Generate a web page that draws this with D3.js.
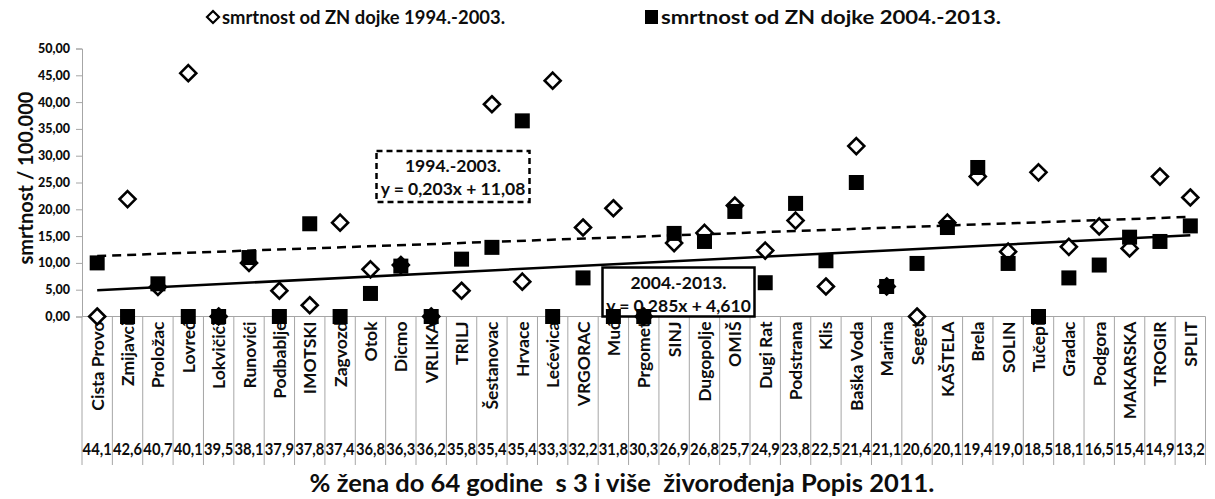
<!DOCTYPE html>
<html>
<head>
<meta charset="utf-8">
<script src="https://cdn.jsdelivr.net/npm/d3@7"></script>
<style>
  html, body { margin: 0; padding: 0; background: #fff; }
  svg { display: block; font-family: Lato, "Open Sans", "Liberation Sans", sans-serif; font-weight: 900; }
</style>
</head>
<body>
<svg id="chart" width="1215" height="499"></svg>
<script>
// Municipalities, ordered by share of women (up to 64) with 3+ live births
const categories = [
  "Cista Provo", "Zmijavci", "Proložac", "Lovreć", "Lokvičići", "Runovići", "Podbablje",
  "IMOTSKI", "Zagvozd", "Otok", "Dicmo", "VRLIKA", "TRILJ", "Šestanovac", "Hrvace",
  "Lećevica", "VRGORAC", "Muć", "Prgomet", "SINJ", "Dugopolje", "OMIŠ", "Dugi Rat",
  "Podstrana", "Klis", "Baška Voda", "Marina", "Seget", "KAŠTELA", "Brela", "SOLIN",
  "Tučepi", "Gradac", "Podgora", "MAKARSKA", "TROGIR", "SPLIT"
];

// % of women up to 64 with 3 or more live births (Census 2011)
const sharePct = [
  "44,1", "42,6", "40,7", "40,1", "39,5", "38,1", "37,9", "37,8", "37,4", "36,8",
  "36,3", "36,2", "35,8", "35,4", "35,4", "33,3", "32,2", "31,8", "30,3", "26,9",
  "26,8", "25,7", "24,9", "23,8", "22,5", "21,4", "21,1", "20,6", "20,1", "19,4",
  "19,0", "18,5", "18,1", "16,5", "15,4", "14,9", "13,2"
];

// Breast cancer mortality per 100,000, 1994-2003
const mortality1994 = [
  0, 21.9, 5.5, 45.4, 0, 10.0, 4.8, 2.1, 17.5, 8.8,
  9.6, 0, 4.8, 39.6, 6.5, 44.0, 16.6, 20.2, 0, 13.7,
  15.6, 20.7, 12.3, 17.9, 5.6, 31.8, 5.6, 0, 17.5, 26.1,
  12.1, 26.9, 13.0, 16.8, 12.7, 26.1, 22.2
];

// Breast cancer mortality per 100,000, 2004-2013
const mortality2004 = [
  10.0, 0, 6.1, 0, 0, 11.0, 0, 17.3, 0, 4.3,
  9.4, 0, 10.7, 12.9, 36.5, 0, 7.2, 0, 0, 15.5,
  14.0, 19.6, 6.3, 21.1, 10.4, 25.0, 5.6, 9.9, 16.6, 27.8,
  9.9, 0, 7.2, 9.6, 14.8, 14.0, 16.9
];

// Linear trend equations (x = position 1..37)
const trendLabels = ["1994.-2003.", "2004.-2013."];
const trendSlopes = [0.203, 0.285];
const trendIntercepts = [11.08, 4.610];
const trendEquations = ["y = 0,203x + 11,08", "y = 0,285x + 4,610"];

const yTicks = [0, 5, 10, 15, 20, 25, 30, 35, 40, 45, 50];
const legendLabels = ["smrtnost od ZN dojke 1994.-2003.", "smrtnost od ZN dojke 2004.-2013."];

const svg = d3.select("#chart");

const x = d3.scaleBand().domain(categories).range([82, 1205.5]).padding(0);
const y = d3.scaleLinear().domain([0, 50]).range([316.5, 48.5]);
const cx = d => x(d) + x.bandwidth() / 2;
const gridColor = "#a6a6a6";
const ink = "#0d0d0d";

// Category table below the zero line
const table = svg.append("g");
const bounds = categories.map(c => x(c)).concat([x.range()[1]]);
table.selectAll("line.cell")
  .data(bounds)
  .join("line")
  .attr("class", "cell")
  .attr("x1", d => d).attr("x2", d => d)
  .attr("y1", y(0)).attr("y2", 465)
  .attr("stroke", gridColor).attr("stroke-width", 1);

table.selectAll("text.cat")
  .data(categories)
  .join("text")
  .attr("class", "cat")
  .attr("transform", d => `translate(${cx(d) + 6.5},${y(0) + 5}) rotate(-90)`)
  .attr("text-anchor", "end")
  .attr("font-size", 17.5)
  .attr("font-weight", 700)
  .attr("fill", ink)
  .text(d => d);

// Share values packed one per column, squeezed to the column width
table.selectAll("text.pct")
  .data(categories)
  .join("text")
  .attr("class", "pct")
  .attr("x", d => x(d) + 0.6)
  .attr("y", 455)
  .attr("font-size", 17)
  .attr("font-weight", 700)
  .attr("fill", ink)
  .attr("textLength", x.bandwidth() - 1.2)
  .attr("lengthAdjust", "spacingAndGlyphs")
  .text((d, i) => sharePct[i]);

// Y axis
const yAxis = d3.axisLeft(y)
  .tickValues(yTicks)
  .tickSize(6)
  .tickPadding(6)
  .tickFormat(d => d3.format(".2f")(d).replace(".", ","));
const yg = svg.append("g").attr("transform", "translate(82,0)").call(yAxis);
yg.select(".domain").attr("stroke", gridColor);
yg.selectAll(".tick line").attr("stroke", gridColor);
yg.selectAll(".tick text")
  .attr("font-size", 12.5)
  .attr("font-family", "Lato, sans-serif")
  .attr("font-weight", 900)
  .attr("fill", ink);

// Zero line
svg.append("line")
  .attr("x1", 82).attr("x2", x.range()[1])
  .attr("y1", y(0)).attr("y2", y(0))
  .attr("stroke", gridColor);

// Trend lines
const trendStyles = [{ dash: "9,6" }, { dash: null }];
trendSlopes.forEach((s, k) => {
  const first = 1, last = categories.length;
  svg.append("line")
    .attr("x1", cx(categories[first - 1]))
    .attr("y1", y(s * first + trendIntercepts[k]))
    .attr("x2", cx(categories[last - 1]))
    .attr("y2", y(s * last + trendIntercepts[k]))
    .attr("stroke", "#000")
    .attr("stroke-width", 2.5)
    .attr("stroke-dasharray", trendStyles[k].dash);
});

// Trend equation boxes
const boxes = [
  { x: 376.5, y: 151, w: 153, h: 51, dash: "6,4" },
  { x: 602.5, y: 267.5, w: 152, h: 49, dash: null }
];
boxes.forEach((b, k) => {
  const g = svg.append("g");
  g.append("rect")
    .attr("x", b.x).attr("y", b.y).attr("width", b.w).attr("height", b.h)
    .attr("fill", "#fff").attr("stroke", "#000").attr("stroke-width", 2.5)
    .attr("stroke-dasharray", b.dash);
  g.append("text")
    .attr("x", b.x + b.w / 2).attr("y", b.y + 21)
    .attr("text-anchor", "middle").attr("font-size", 17.5).attr("font-weight", 700).attr("fill", ink)
    .text(trendLabels[k]);
  g.append("text")
    .attr("x", b.x + b.w / 2).attr("y", b.y + 44)
    .attr("text-anchor", "middle").attr("font-size", 17.5).attr("font-weight", 700).attr("fill", ink)
    .text(trendEquations[k]);
});

// Markers
const diamond = r => `M0,${-r}L${r},0L0,${r}L${-r},0Z`;
svg.append("g").selectAll("path")
  .data(categories)
  .join("path")
  .attr("transform", (d, i) => `translate(${cx(d)},${y(mortality1994[i])})`)
  .attr("d", diamond(8))
  .attr("fill", "#fff")
  .attr("stroke", "#000")
  .attr("stroke-width", 2.6);

svg.append("g").selectAll("rect")
  .data(categories)
  .join("rect")
  .attr("x", d => cx(d) - 7.5)
  .attr("y", (d, i) => y(mortality2004[i]) - 7.5)
  .attr("width", 15).attr("height", 15)
  .attr("fill", "#000");

// Legend
const legend = svg.append("g");
legend.append("path")
  .attr("transform", "translate(213,17)")
  .attr("d", diamond(6))
  .attr("fill", "#fff").attr("stroke", "#000").attr("stroke-width", 2.2);
legend.append("text")
  .attr("x", 222).attr("y", 24)
  .attr("font-size", 19.5).attr("font-weight", 700).attr("fill", ink)
  .attr("textLength", 283).attr("lengthAdjust", "spacingAndGlyphs")
  .text(legendLabels[0]);
legend.append("rect")
  .attr("x", 645).attr("y", 10).attr("width", 13).attr("height", 14)
  .attr("fill", "#000");
legend.append("text")
  .attr("x", 661).attr("y", 24)
  .attr("font-size", 19.5).attr("font-weight", 700).attr("fill", ink)
  .attr("textLength", 340).attr("lengthAdjust", "spacingAndGlyphs")
  .text(legendLabels[1]);

// Axis titles
svg.append("text")
  .attr("transform", "translate(33,178) rotate(-90)")
  .attr("text-anchor", "middle")
  .attr("font-size", 20)
  .attr("font-weight", 700)
  .attr("fill", ink)
  .text("smrtnost / 100.000");

svg.append("text")
  .attr("x", 622).attr("y", 492)
  .attr("text-anchor", "middle")
  .attr("font-size", 25.5)
  .attr("font-weight", 700)
  .attr("fill", ink)
  .attr("xml:space", "preserve")
  .text("% žena do 64 godine  s 3 i više  živorođenja Popis 2011.");
</script>
</body>
</html>
